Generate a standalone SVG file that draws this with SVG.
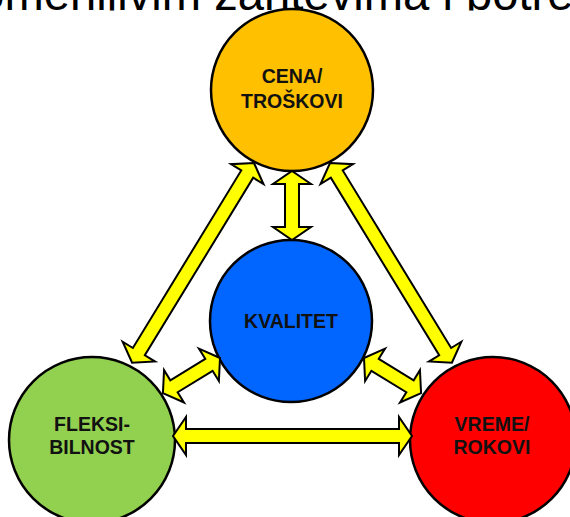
<svg xmlns="http://www.w3.org/2000/svg" width="570" height="517" viewBox="0 0 570 517">
  <style>
    .node { stroke: #000; stroke-width: 2.5; }
    .lbl { font-family: "Liberation Sans", Arial, sans-serif; font-weight: bold; font-size: 19.5px; fill: #111; text-anchor: middle; }
    .arr { fill: #FFFF00; stroke: #000; stroke-width: 2; stroke-linejoin: miter; }
    .title { font-family: "Liberation Sans", Arial, sans-serif; font-size: 47.2px; fill: #000; }
  </style>
  <defs>
    <clipPath id="titleclip"><rect x="0" y="0" width="570" height="10.5"/></clipPath>
  </defs>
  <rect width="570" height="517" fill="#fff"/>
  <text class="title" x="-63.7" y="9.5" clip-path="url(#titleclip)">promenljivim zahtevima i potrebama</text>

  <g id="cena">
    <circle class="node" cx="292" cy="90" r="81" fill="#FFC000"/>
    <text class="lbl" x="292" y="83">CENA/</text>
    <text class="lbl" x="292" y="108">TROŠKOVI</text>
  </g>
  <g id="kvalitet">
    <circle class="node" cx="291" cy="321" r="81" fill="#0066FF"/>
    <text class="lbl" x="291" y="328">KVALITET</text>
  </g>
  <g id="fleksibilnost">
    <circle class="node" cx="92" cy="440" r="83" fill="#92D050"/>
    <text class="lbl" x="92" y="431">FLEKSI-</text>
    <text class="lbl" x="92" y="454">BILNOST</text>
  </g>
  <g id="vreme">
    <circle class="node" cx="493" cy="440" r="83" fill="#FF0000"/>
    <text class="lbl" x="492" y="431">VREME/</text>
    <text class="lbl" x="492" y="454">ROKOVI</text>
  </g>

  <g id="connectors">
    <!-- CENA <-> KVALITET -->
    <path class="arr" transform="translate(292,171) rotate(90)" d="M0,0 L13,-19 L13,-7 L56,-7 L56,-19 L69,0 L56,19 L56,7 L13,7 L13,19 Z"/>
    <!-- CENA <-> FLEKSIBILNOST -->
    <path class="arr" transform="translate(254,163) rotate(121.4)" d="M0,0 L13,-19 L13,-7 L221,-7 L221,-19 L234,0 L221,19 L221,7 L13,7 L13,19 Z"/>
    <!-- CENA <-> VREME -->
    <path class="arr" transform="translate(330,163) rotate(58.6)" d="M0,0 L13,-19 L13,-7 L221,-7 L221,-19 L234,0 L221,19 L221,7 L13,7 L13,19 Z"/>
    <!-- KVALITET <-> FLEKSIBILNOST -->
    <path class="arr" transform="translate(220,358) rotate(148.4)" d="M0,0 L13,-19 L13,-7 L54,-7 L54,-19 L67,0 L54,19 L54,7 L13,7 L13,19 Z"/>
    <!-- KVALITET <-> VREME -->
    <path class="arr" transform="translate(364,358) rotate(31.6)" d="M0,0 L13,-19 L13,-7 L54,-7 L54,-19 L67,0 L54,19 L54,7 L13,7 L13,19 Z"/>
    <!-- FLEKSIBILNOST <-> VREME -->
    <path class="arr" transform="translate(173,436)" d="M0,0 L13,-19 L13,-7 L226,-7 L226,-19 L239,0 L226,19 L226,7 L13,7 L13,19 Z"/>
  </g>
</svg>
